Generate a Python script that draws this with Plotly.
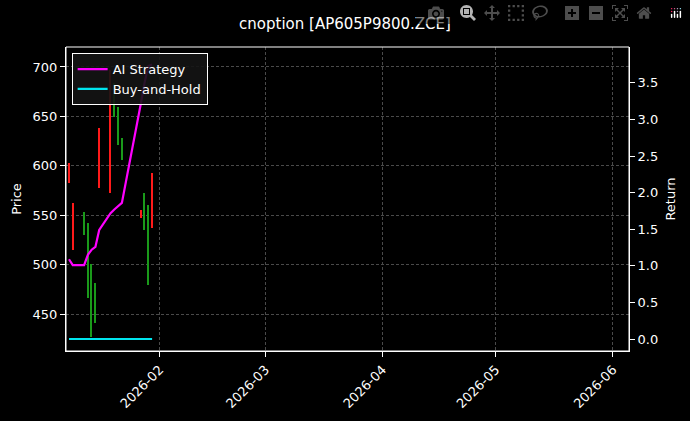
import plotly.graph_objects as go

dates = ["2026-01-08","2026-01-09","2026-01-12","2026-01-13","2026-01-14","2026-01-15","2026-01-16",
         "2026-01-19","2026-01-20","2026-01-21","2026-01-22","2026-01-27","2026-01-28","2026-01-29","2026-01-30"]
opens  = [583, 515, 553, 542, 501, 481, 578, 572, 684, 660, 628, 547, 572, 560, 537]
closes = [603, 562, 530, 466, 427, 441, 638, 697, 649, 621, 606, 555, 535, 479, 593]
ai_return = [1.09, 1.01, 1.01, 1.15, 1.22, 1.26, 1.49, 1.72, 1.77, 1.82, 1.86, 3.21, 3.50, 3.73, 3.75]
bh_return = [0.0]*15

colors = ["#ff1a1a" if c > o else "#1a9a1a" for o, c in zip(opens, closes)]
fig = go.Figure()
fig.add_trace(go.Bar(x=dates, y=[c - o for o, c in zip(opens, closes)], base=opens,
                     width=0.35*86400000, marker=dict(color=colors, line=dict(width=0)),
                     showlegend=False, yaxis="y"))
fig.add_trace(go.Scatter(x=dates, y=ai_return, mode="lines", name="AI Strategy",
                         line=dict(color="#ff00ff", width=2.2), yaxis="y2"))
fig.add_trace(go.Scatter(x=dates, y=bh_return, mode="lines", name="Buy-and-Hold",
                         line=dict(color="#00e5ee", width=2.2), yaxis="y2"))

axcommon = dict(showline=True, linecolor="white", linewidth=1, mirror=False, ticks="outside",
                tickcolor="white", gridcolor="#4a4a4a", griddash="3px,2px", gridwidth=0.6,
                zeroline=False, tickfont=dict(color="white", size=13), automargin=False)
fig.update_layout(
    width=690, height=421, paper_bgcolor="black", plot_bgcolor="black",
    font=dict(family="DejaVu Sans", color="white", size=13),
    title=dict(text="cnoption [AP605P9800.ZCE]", x=0.5, xanchor="center", y=0.955, font=dict(size=15)),
    margin=dict(l=66, r=61, t=47, b=70),
    bargap=0,
    xaxis=dict(**axcommon, type="date", range=["2026-01-07 05:00", "2026-06-05 06:00"],
               tickvals=["2026-02-01","2026-03-01","2026-04-01","2026-05-01","2026-06-01"],
               ticktext=["2026-02","2026-03","2026-04","2026-05","2026-06"], tickangle=-45),
    yaxis=dict(**axcommon, range=[412.6, 720.2], tickvals=[450,500,550,600,650,700],
               title=dict(text="Price", font=dict(color="white", size=13), standoff=8)),
    yaxis2=dict(**axcommon, overlaying="y", side="right", range=[-0.164, 3.99],
                tickvals=[0,0.5,1,1.5,2,2.5,3,3.5],
                ticktext=["0.0","0.5","1.0","1.5","2.0","2.5","3.0","3.5"],
                showgrid=False, title=dict(text="Return", font=dict(color="white", size=13), standoff=8)),
    legend=dict(x=0.01, y=0.98, xanchor="left", yanchor="top", bgcolor="rgba(20,20,20,0.9)",
                bordercolor="white", borderwidth=1, font=dict(color="white", size=13)),
    shapes=[dict(type="rect", xref="paper", yref="paper", x0=0, x1=1, y0=0, y1=1,
                 line=dict(color="white", width=1))],
)
fig.write_html("out.html", post_script="document.body.style.margin='0';document.body.style.background='black';")
